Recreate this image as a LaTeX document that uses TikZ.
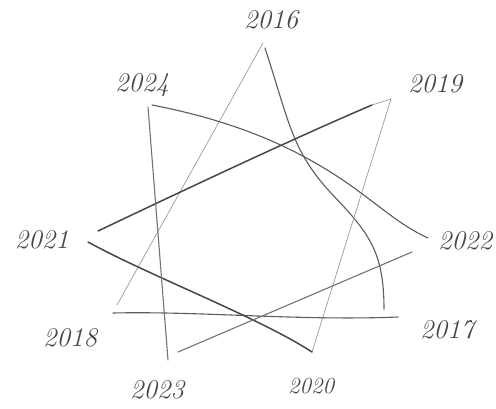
\documentclass[tikz,border=0pt]{standalone}
\begin{document}
\begin{tikzpicture}[x=1pt,y=-1pt,
  yearlabel/.style={font=\fontsize{27}{27}\selectfont\itshape, text=black!72, inner sep=0pt},
  thinpen/.style={draw=black!40, line width=0.7pt, line cap=round},
  midpen/.style={draw=black!64, line width=1.1pt, line cap=round, line join=round},
  thickpen/.style={draw=black!72, line width=1.5pt, line cap=round, line join=round}]
\useasboundingbox (0,0) rectangle (496,408);
% vertices
\coordinate (v2016) at (263,43);
\coordinate (v2016b) at (265,48);
\coordinate (v2019) at (391,99);
\coordinate (v2019b) at (372,105);
\coordinate (v2022) at (428,238);
\coordinate (v2022b) at (412,252);
\coordinate (v2017) at (384,309);
\coordinate (v2017b) at (398,317);
\coordinate (v2020) at (312,352);
\coordinate (v2023) at (168,360);
\coordinate (v2023b) at (178,352);
\coordinate (v2018) at (117,305);
\coordinate (v2018b) at (113,313);
\coordinate (v2021) at (98,231);
\coordinate (v2021b) at (88,242);
\coordinate (v2024) at (148,107);
\coordinate (v2024b) at (152,105);
% labels
\node[yearlabel] (l2016) at (271,20) {2016};
\node[yearlabel] (l2019) at (435,84) {2019};
\node[yearlabel] (l2022) at (465,241) {2022};
\node[yearlabel] (l2017) at (447,330) {2017};
\node[yearlabel, font=\fontsize{23}{23}\selectfont\itshape] (l2020) at (311,386) {2020};
\node[yearlabel] (l2023) at (157,390) {2023};
\node[yearlabel] (l2018) at (70,338) {2018};
\node[yearlabel] (l2021) at (42,240) {2021};
\node[yearlabel] (l2024) at (142,85) {2024};
% triangle 2016-2017-2018
\draw[thinpen] (v2016) -- (v2018);
\draw[midpen] (v2016b) .. controls (290,125) and (292,150) .. (330,192)
  .. controls (368,232) and (384,250) .. (v2017);
\draw[midpen] (v2018b) .. controls (200,311) and (300,321) .. (v2017b);
% triangle 2019-2020-2021
\draw[thickpen] (v2021) .. controls (180,192) and (290,140) .. (v2019b);
\draw[thinpen] (v2019b) -- (v2019);
\draw[thinpen] (v2019) -- (v2020);
\draw[thickpen] (v2021b) .. controls (150,276) and (260,318) .. (v2020);
% triangle 2022-2023-2024
\draw[midpen] (v2024b) .. controls (240,122) and (300,150) .. (350,185)
  .. controls (385,210) and (400,225) .. (v2022);
\draw[midpen, draw=black!55] (v2024) -- (v2023);
\draw[midpen, draw=black!55] (v2023b) -- (v2022b);
\end{tikzpicture}
\end{document}
